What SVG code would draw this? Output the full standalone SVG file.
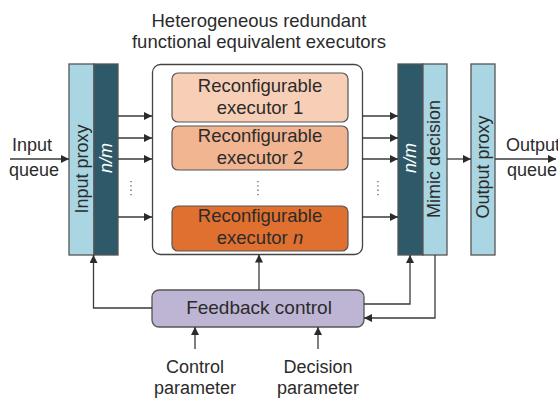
<svg xmlns="http://www.w3.org/2000/svg" width="558" height="399" viewBox="0 0 558 399">
<style>
text{font-family:"Liberation Sans",Arial,sans-serif;fill:#2b2b2b;font-size:18px}
.c{text-anchor:middle}
.light{fill:#a9d6e2;stroke:#555;stroke-width:1.3}
.dark{fill:#2e5969;stroke:#555;stroke-width:1.3}
.ln{fill:none;stroke:#3a3a3a;stroke-width:1.3;marker-end:url(#ah)}
.dots{fill:none;stroke:#555;stroke-width:1.2;stroke-dasharray:1.3 3}
.ex{font-size:18.5px}
</style>
<defs>
<marker id="ah" viewBox="0 0 10 10" refX="10" refY="5" markerWidth="8" markerHeight="8" markerUnits="userSpaceOnUse" orient="auto">
<path d="M0,0 L10,5 L0,10 z" fill="#2b2b2b"/>
</marker>
</defs>

<text class="c" x="259" y="27" style="font-size:18.5px">Heterogeneous redundant</text>
<text class="c" x="259" y="48" style="font-size:18.5px">functional equivalent executors</text>

<g id="input-queue">
<text x="12" y="151">Input</text>
<text x="9" y="176">queue</text>
</g>

<g id="input-proxy">
<rect class="light" x="69" y="64" width="25" height="191"/>
<text class="c" transform="translate(82,169) rotate(-90)" dy="0.35em">Input proxy</text>
</g>
<g id="input-nm">
<rect class="dark" x="94" y="64" width="24" height="191"/>
<text class="c" transform="translate(106,158) rotate(-90)" dy="0.35em" style="fill:#fff;font-style:italic">n/m</text>
</g>

<g id="executors">
<rect x="152.5" y="64.5" width="210" height="190" rx="8" fill="#fff" stroke="#444" stroke-width="1.3"/>
</g>
<g id="executor-1">
<rect x="172" y="73" width="176" height="49" rx="6" fill="#f7cfb6" stroke="#555" stroke-width="1.2"/>
<text class="c ex" x="260" y="92">Reconfigurable</text>
<text class="c ex" x="260" y="114">executor 1</text>
</g>
<g id="executor-2">
<rect x="172" y="126" width="176" height="44" rx="6" fill="#f1b592" stroke="#555" stroke-width="1.2"/>
<text class="c ex" x="260" y="142">Reconfigurable</text>
<text class="c ex" x="260" y="164">executor 2</text>
</g>
<path class="dots" d="M258,181 V196"/>
<g id="executor-n">
<rect x="172" y="206" width="176" height="45" rx="6" fill="#e07030" stroke="#555" stroke-width="1.2"/>
<text class="c ex" x="260" y="222">Reconfigurable</text>
<text class="c ex" x="260" y="244">executor <tspan font-style="italic">n</tspan></text>
</g>

<g id="decision-nm">
<rect class="dark" x="398" y="64" width="25" height="191"/>
<text class="c" transform="translate(410,158) rotate(-90)" dy="0.35em" style="fill:#fff;font-style:italic">n/m</text>
</g>
<g id="mimic-decision">
<rect class="light" x="423" y="64" width="24" height="191"/>
<text class="c" transform="translate(434,159) rotate(-90)" dy="0.35em">Mimic decision</text>
</g>

<g id="output-proxy">
<rect class="light" x="471" y="64" width="24" height="191"/>
<text class="c" transform="translate(483,167) rotate(-90)" dy="0.35em">Output proxy</text>
</g>

<g id="output-queue">
<text x="506" y="151">Output</text>
<text x="507" y="176">queue</text>
</g>

<g id="feedback-control">
<rect x="152" y="290" width="212" height="37" rx="7" fill="#bdb5d3" stroke="#555" stroke-width="1.3"/>
<text class="c" x="259" y="314" style="font-size:19px">Feedback control</text>
</g>

<g id="control-parameter">
<text class="c" x="195" y="373">Control</text>
<text class="c" x="195" y="394">parameter</text>
</g>
<g id="decision-parameter">
<text class="c" x="318" y="373">Decision</text>
<text class="c" x="318" y="394">parameter</text>
</g>

<g id="connectors">
<path class="ln" d="M10,159 H69"/>
<path class="ln" d="M118,116 H152"/>
<path class="ln" d="M118,138 H152"/>
<path class="ln" d="M118,159 H152"/>
<path class="ln" d="M118,217 H152"/>
<path class="dots" d="M131,181 V196"/>
<path class="ln" d="M362,116 H398"/>
<path class="ln" d="M362,138 H398"/>
<path class="ln" d="M362,159 H398"/>
<path class="ln" d="M362,217 H398"/>
<path class="dots" d="M378,181 V196"/>
<path class="ln" d="M447,159 H471"/>
<path class="ln" d="M495,159 H556"/>
<path class="ln" d="M152,308 H93.5 V255"/>
<path class="ln" d="M259,290 V254.5"/>
<path class="ln" d="M364,304 H410 V255"/>
<path class="ln" d="M435,255 V318 H364"/>
<path class="ln" d="M195,349 V327"/>
<path class="ln" d="M318,349 V327"/>
</g>
</svg>
